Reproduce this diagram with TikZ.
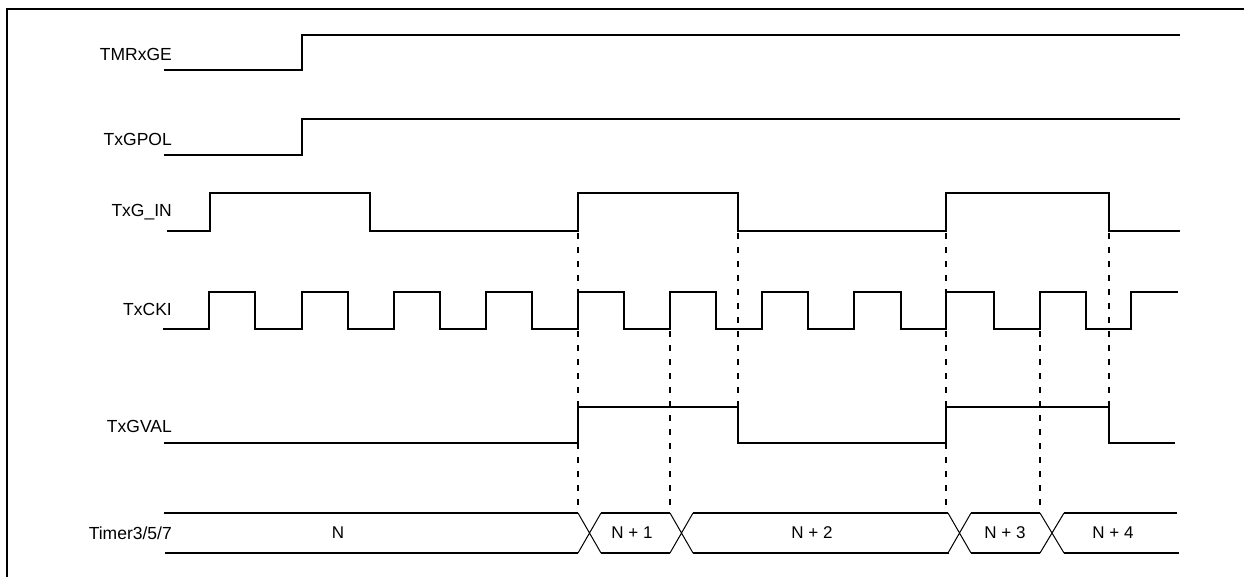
\documentclass[tikz,border=0pt]{standalone}
\usepackage{fontspec}
\setmainfont{Liberation Sans}
\begin{document}
\begin{tikzpicture}[x=1pt,y=-1pt,
  sig/.style={line width=2pt,line join=miter},
  bus/.style={line width=1.4pt},
  xing/.style={line width=1pt},
  guide/.style={line width=1.8pt,dash pattern=on 6pt off 8pt},
  lbl/.style={anchor=base east,inner sep=0pt,font=\fontsize{17.5}{20}\selectfont},
  val/.style={anchor=base,inner sep=0pt,font=\fontsize{17}{20}\selectfont}]
\useasboundingbox (0,0) rectangle (1244,576);
% frame
\draw[line width=2pt] (7,590) -- (7,9) -- (1260,9);
% labels
\node[lbl] (lTMR) at (172,60) {TMRxGE};
\node[lbl] (lPOL) at (172,145.5) {TxGPOL};
\node[lbl] (lGIN) at (172,216.5) {TxG\_IN};
\node[lbl] (lCKI) at (172,315) {TxCKI};
\node[lbl] (lVAL) at (172,432.5) {TxGVAL};
\node[lbl] (lTMRV) at (172,539) {Timer3/5/7};
% TMRxGE
\draw[sig] (164,70) -- (302,70) -- (302,35) -- (1180,35);
% TxGPOL
\draw[sig] (164,155) -- (302,155) -- (302,119) -- (1180,119);
% TxG_IN
\draw[sig] (167,231) -- (210,231) -- (210,193) -- (370,193) -- (370,231)
  -- (578,231) -- (578,193) -- (738,193) -- (738,231)
  -- (946,231) -- (946,193) -- (1109,193) -- (1109,231) -- (1180,231);
% TxCKI
\draw[sig] (163,329)
  -- (209,329) -- (209,292) -- (255,292) -- (255,329)
  -- (302,329) -- (302,292) -- (348,292) -- (348,329)
  -- (394,329) -- (394,292) -- (440,292) -- (440,329)
  -- (486,329) -- (486,292) -- (532,292) -- (532,329)
  -- (578,329) -- (578,292) -- (624,292) -- (624,329)
  -- (670,329) -- (670,292) -- (716,292) -- (716,329)
  -- (762,329) -- (762,292) -- (808,292) -- (808,329)
  -- (854,329) -- (854,292) -- (901,292) -- (901,329)
  -- (946,329) -- (946,292) -- (994,292) -- (994,329)
  -- (1040,329) -- (1040,292) -- (1086,292) -- (1086,329)
  -- (1131,329) -- (1131,292) -- (1178,292);
% TxGVAL
\draw[sig] (164,443) -- (578,443) -- (578,407) -- (738,407) -- (738,443)
  -- (946,443) -- (946,407) -- (1109,407) -- (1109,443) -- (1175,443);
% guide lines
\draw[guide] (578,233) -- (578,513);
\draw[guide] (670,331) -- (670,513);
\draw[guide] (738,233) -- (738,407);
\draw[guide] (946,233) -- (946,513);
\draw[guide] (1040,331) -- (1040,513);
\draw[guide] (1109,233) -- (1109,407);
% bus
\draw[bus] (164,513) -- (578,513);
\draw[bus] (165,553) -- (578,553);
\draw[bus] (601,513) -- (670,513);
\draw[bus] (601,553) -- (670,553);
\draw[bus] (693,513) -- (948,513);
\draw[bus] (693,553) -- (949,553);
\draw[bus] (971,513) -- (1040,513);
\draw[bus] (971,553) -- (1040,553);
\draw[bus] (1064,513) -- (1177,513);
\draw[bus] (1064,553) -- (1179,553);
\draw[xing] (578,513) -- (601,553) (578,553) -- (601,513);
\draw[xing] (670,513) -- (693,553) (670,553) -- (693,513);
\draw[xing] (948,513) -- (971,553) (948,553) -- (971,513);
\draw[xing] (1040,513) -- (1064,553) (1040,553) -- (1064,513);
\node[val] (vN) at (338,538.5) {N};
\node[val] (vN1) at (632,538.5) {N + 1};
\node[val] (vN2) at (812,538.5) {N + 2};
\node[val] (vN3) at (1005,538.5) {N + 3};
\node[val] (vN4) at (1113,538.5) {N + 4};
\end{tikzpicture}
\end{document}
